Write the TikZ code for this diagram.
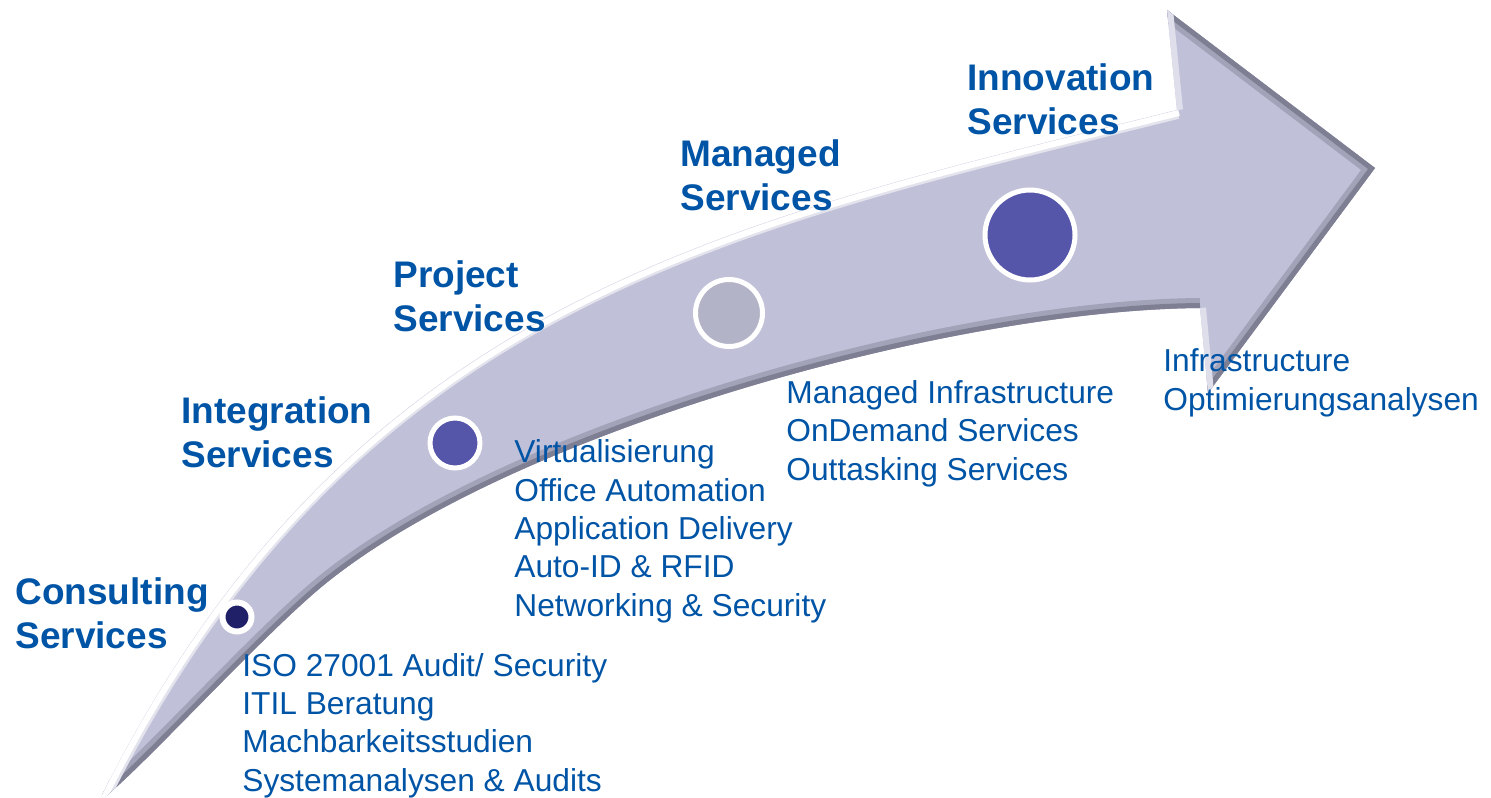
\documentclass[tikz,border=0pt]{standalone}
\usepackage{fontspec}
\setmainfont{Liberation Sans}
\usepackage{tikz}
\definecolor{svcblue}{RGB}{0,84,166}
\definecolor{arrowfill}{RGB}{192,192,216}
\definecolor{arrowdark}{RGB}{92,92,112}
\definecolor{dotnavy}{RGB}{32,32,104}
\definecolor{dotviolet}{RGB}{85,85,170}
\definecolor{dotgrey}{RGB}{179,179,200}

\begin{document}
\begin{tikzpicture}[x=0.5pt, y=-0.5pt,
		headnode/.style={anchor=base west, inner sep=0pt, align=left, text=svcblue, font=\fontsize{18.5}{22}\selectfont\bfseries},
		listnode/.style={anchor=base west, inner sep=0pt, align=left, text=svcblue, font=\fontsize{15.85}{19.15}\selectfont},
		dotnode/.style={circle, draw=white, inner sep=0pt, line width=2.5pt}
	]
	\useasboundingbox (0,0) rectangle (1491,797);

	% arrow outline
	\path[save path=\arrowshape]
		(101,797) .. controls (351,297) and (727,222) .. (1177,110)
		-- (1167,10) -- (1375,168) -- (1208,393) -- (1200,308)
		.. controls (950,310) and (520,430) .. (330,580)
		.. controls (270,627) and (150,760) .. (105,797)
		-- cycle;

	\begin{scope}
		\clip[use path=\arrowshape];
		\fill[arrowfill] (0,0) rectangle (1491,797);
		% shading on the lower side
		\draw[arrowdark!30!arrowfill, line width=10pt] (1200,308) .. controls (950,310) and (520,430) .. (330,580) .. controls (270,627) and (150,760) .. (105,797);
		\draw[arrowdark!65!arrowfill, line width=5pt] (1200,308) .. controls (950,310) and (520,430) .. (330,580) .. controls (270,627) and (150,760) .. (105,797);
		\draw[arrowdark!30!arrowfill, line width=10pt] (1167,10) -- (1375,168) -- (1208,393);
		\draw[arrowdark!65!arrowfill, line width=5pt] (1167,10) -- (1375,168) -- (1208,393);
		% highlight on the upper side
		\draw[white!55!arrowfill, line width=9pt] (101,797) .. controls (351,297) and (727,222) .. (1177,110);
		\draw[white, line width=3pt, shift={(2,3)}] (101,797) .. controls (351,297) and (727,222) .. (1177,110);
		\draw[white!50!arrowfill, line width=6pt] (1177,110) -- (1167,10);
		\draw[white!50!arrowfill, line width=6pt] (1200,308) -- (1208,393);
	\end{scope}

	\node[dotnode, fill=dotnavy, line width=3pt, minimum size=14.5pt] (consultdot) at (237,617) {};
	\node[dotnode, fill=dotviolet, minimum size=25pt] (integrdot) at (455,443) {};
	\node[dotnode, fill=dotgrey, minimum size=33.5pt] (manageddot) at (729,313) {};
	\node[dotnode, fill=dotviolet, minimum size=45pt] (innovdot) at (1030,235) {};

	% base of the last line
	\node[headnode] (consult) at (15,648) {Consulting\\Services};
	\node[headnode] (integr) at (181,467) {Integration\\Services};
	\node[headnode] (project) at (393,331) {Project\\Services};
	\node[headnode] (managed) at (680,210) {Managed\\Services};
	\node[headnode] (innov) at (967,134) {Innovation\\Services};

	\node[listnode] (consultlist) at (242,791) {ISO 27001 Audit/ Security\\ITIL Beratung\\Machbarkeitsstudien\\Systemanalysen \& Audits};
	\node[listnode] (integrlist) at (514,616) {Virtualisierung\\Office Automation\\Application Delivery\\Auto-ID \& RFID\\Networking \& Security};
	\node[listnode] (managedlist) at (786,480) {Managed Infrastructure\\OnDemand Services\\Outtasking Services};
	\node[listnode] (innovlist) at (1163,410) {Infrastructure\\Optimierungsanalysen};
\end{tikzpicture}
\end{document}
